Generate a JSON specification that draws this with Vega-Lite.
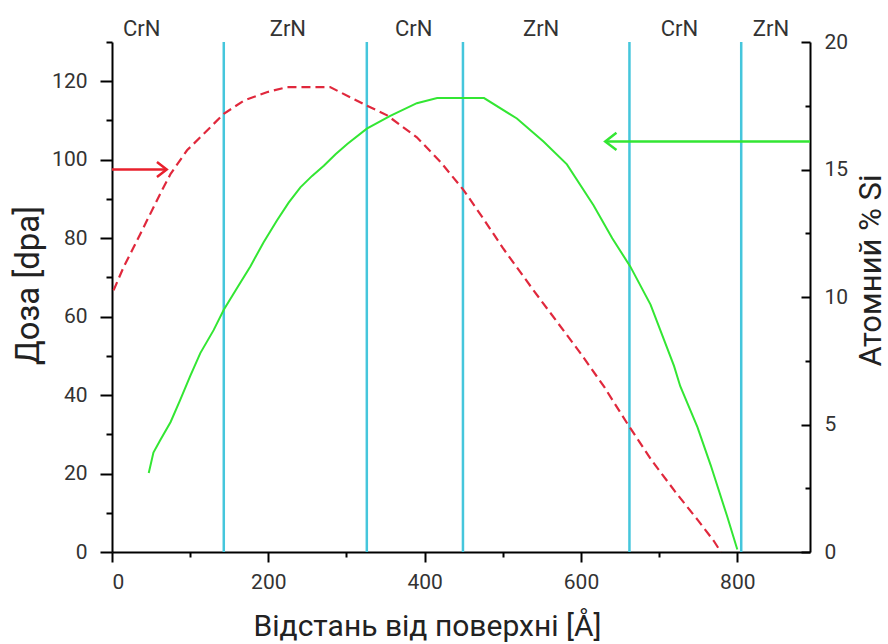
{
  "$schema": "https://vega.github.io/schema/vega-lite/v6.json",
  "width": 698,
  "height": 510,
  "autosize": "none",
  "padding": {"left": 112, "top": 42, "right": 78, "bottom": 92},
  "background": "white",
  "config": {
    "view": {"stroke": null},
    "font": "Roboto",
    "axis": {
      "grid": false,
      "domainColor": "#000",
      "domainWidth": 2,
      "tickColor": "#000",
      "tickWidth": 2,
      "labelFont": "Roboto",
      "titleFont": "Roboto",
      "labelColor": "#333",
      "titleColor": "#222",
      "labelFontSize": 21,
      "titleFontWeight": "normal"
    }
  },
  "datasets": {
    "layers": [{"x": 143}, {"x": 326}, {"x": 449}, {"x": 662}, {"x": 805}],
    "labels": [
      {"x": 38, "y": 133.4, "t": "CrN"},
      {"x": 225, "y": 133.4, "t": "ZrN"},
      {"x": 386, "y": 133.4, "t": "CrN"},
      {"x": 549, "y": 133.4, "t": "ZrN"},
      {"x": 726, "y": 133.4, "t": "CrN"},
      {"x": 843, "y": 133.4, "t": "ZrN"}
    ],
    "dose": [
      {"x": 2, "y": 66.7}, {"x": 15, "y": 72.7}, {"x": 28, "y": 77.8}, {"x": 45, "y": 84.6},
      {"x": 64, "y": 92.2}, {"x": 75, "y": 96.4}, {"x": 96, "y": 102.4}, {"x": 122, "y": 107.5},
      {"x": 143, "y": 111.7}, {"x": 169, "y": 115.1}, {"x": 198, "y": 117.2}, {"x": 224, "y": 118.5},
      {"x": 279, "y": 118.5}, {"x": 326, "y": 113.8}, {"x": 352, "y": 111.3}, {"x": 390, "y": 105.7},
      {"x": 420, "y": 99.5}, {"x": 450, "y": 92.2}, {"x": 475, "y": 85}, {"x": 500, "y": 77.5},
      {"x": 540, "y": 66.5}, {"x": 570, "y": 58.5}, {"x": 600, "y": 50.5}, {"x": 630, "y": 42},
      {"x": 660, "y": 32.5}, {"x": 690, "y": 23.5}, {"x": 720, "y": 15.5}, {"x": 750, "y": 8},
      {"x": 770, "y": 2.8}, {"x": 779, "y": 0}
    ],
    "si": [
      {"x": 47, "y": 3.1}, {"x": 53, "y": 3.9}, {"x": 62, "y": 4.4}, {"x": 75, "y": 5.1},
      {"x": 87, "y": 5.95}, {"x": 100, "y": 6.9}, {"x": 113, "y": 7.8}, {"x": 130, "y": 8.7},
      {"x": 143, "y": 9.5}, {"x": 160, "y": 10.35}, {"x": 177, "y": 11.2}, {"x": 194, "y": 12.15},
      {"x": 211, "y": 13.0}, {"x": 226, "y": 13.7}, {"x": 241, "y": 14.3}, {"x": 256, "y": 14.75},
      {"x": 271, "y": 15.15}, {"x": 286, "y": 15.6}, {"x": 301, "y": 16.0},
      {"x": 326, "y": 16.6}, {"x": 356, "y": 17.1}, {"x": 390, "y": 17.6}, {"x": 416, "y": 17.8},
      {"x": 476, "y": 17.8}, {"x": 518, "y": 17.0}, {"x": 552, "y": 16.1}, {"x": 582, "y": 15.2},
      {"x": 616, "y": 13.6}, {"x": 640, "y": 12.3}, {"x": 663, "y": 11.2}, {"x": 689, "y": 9.7},
      {"x": 719, "y": 7.3}, {"x": 727, "y": 6.5}, {"x": 749, "y": 4.9}, {"x": 766, "y": 3.4},
      {"x": 787, "y": 1.4}, {"x": 800, "y": 0.1}
    ],
    "redArrow": [{"x": 70, "x2": 0, "y": 97.5}],
    "greenArrow": [{"x": 631, "x2": 893, "y": 16.1}]
  },
  "encoding": {
    "x": {
      "field": "x",
      "type": "quantitative",
      "scale": {"domain": [0, 893], "nice": false, "zero": false},
      "axis": {
        "orient": "bottom",
        "values": [0, 100, 200, 300, 400, 500, 600, 700, 800],
        "labelExpr": "datum.value % 200 === 0 ? datum.label : ''",
        "tickSize": {"condition": {"test": "datum.value % 200 === 0", "value": 10}, "value": 5},
        "labelPadding": 9,
        "title": "Відстань від поверхні [Å]",
        "titleFontSize": 30,
        "titleX": 315,
        "titleY": 83,
        "titleAlign": "center",
        "titleBaseline": "alphabetic"
      }
    }
  },
  "layer": [
    {
      "data": {"name": "layers"},
      "mark": {"type": "rule", "color": "#45c6dc", "strokeWidth": 2.5},
      "encoding": {}
    },
    {
      "encoding": {
        "y": {
          "field": "y",
          "type": "quantitative",
          "scale": {"domain": [0, 130], "nice": false, "zero": false},
          "axis": {
            "orient": "left",
            "values": [0, 10, 20, 30, 40, 50, 60, 70, 80, 90, 100, 110, 120, 130],
            "labelExpr": "datum.value % 20 === 0 ? datum.label : ''",
            "tickSize": {"condition": {"test": "datum.value % 20 === 0", "value": 12}, "value": 6},
            "labelPadding": 13,
            "title": "Доза [dpa]",
            "titleFontSize": 33,
            "titleAngle": -90,
            "titleX": -74,
            "titleY": 243,
            "titleAlign": "center",
            "titleBaseline": "alphabetic"
          }
        }
      },
      "layer": [
        {
          "data": {"name": "dose"},
          "mark": {"type": "line", "color": "#e0283c", "strokeWidth": 2.2, "strokeDash": [9, 5]}
        },
        {
          "data": {"name": "redArrow"},
          "mark": {"type": "rule", "color": "#e8202c", "strokeWidth": 2.5},
          "encoding": {"x2": {"field": "x2"}}
        },
        {
          "data": {"name": "redArrow"},
          "mark": {"type": "point", "shape": "M-1.3,-1L0,0L-1.3,1", "filled": false, "stroke": "#e8202c", "strokeWidth": 2.5, "size": 225, "opacity": 1}
        },
        {
          "data": {"name": "labels"},
          "mark": {"type": "text", "fontSize": 22, "color": "#333", "baseline": "middle", "align": "center"},
          "encoding": {"text": {"field": "t"}}
        }
      ]
    },
    {
      "encoding": {
        "y": {
          "field": "y",
          "type": "quantitative",
          "scale": {"domain": [0, 20], "nice": false, "zero": false},
          "axis": {
            "orient": "right",
            "values": [0, 2.5, 5, 7.5, 10, 12.5, 15, 17.5, 20],
            "labelExpr": "datum.value % 5 === 0 ? datum.label : ''",
            "tickSize": {"condition": {"test": "datum.value % 5 === 0", "value": -9}, "value": -5},
            "labelPadding": 23,
            "title": "Атомний % Si",
            "titleFontSize": 31,
            "titleAngle": -90,
            "titleX": 70,
            "titleY": 228,
            "titleAlign": "center",
            "titleBaseline": "alphabetic"
          }
        }
      },
      "layer": [
        {
          "data": {"name": "si"},
          "mark": {"type": "line", "color": "#33e633", "strokeWidth": 2}
        },
        {
          "data": {"name": "greenArrow"},
          "mark": {"type": "rule", "color": "#33e633", "strokeWidth": 2.5},
          "encoding": {"x2": {"field": "x2"}}
        },
        {
          "data": {"name": "greenArrow"},
          "mark": {"type": "point", "shape": "M1.3,-1L0,0L1.3,1", "filled": false, "stroke": "#33e633", "strokeWidth": 2.5, "size": 300, "opacity": 1}
        }
      ]
    }
  ],
  "resolve": {"scale": {"y": "independent"}}
}
